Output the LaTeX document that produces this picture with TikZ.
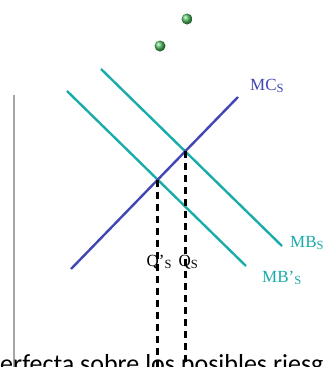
\documentclass[tikz,border=0pt]{standalone}
\usepackage{fontspec}
\setmainfont{Liberation Serif}
\newfontfamily\bodysans{Carlito}
\definecolor{tealc}{RGB}{26,172,170}
\definecolor{bluec}{RGB}{64,70,180}
\definecolor{greyc}{RGB}{165,165,165}
\definecolor{greenc}{RGB}{80,190,95}
\tikzset{
  curve/.style={line width=2.4pt},
  dropline/.style={line width=2.8pt, black, dash pattern=on 7pt off 5pt},
  lbl/.style={inner sep=0pt, anchor=base west, font=\fontsize{17}{17}\selectfont},
  dot/.style={ball color=greenc, draw=none},
}
\newcommand{\subS}{\raisebox{-0.35ex}{\fontsize{12.5}{12.5}\selectfont S}}
\begin{document}
\begin{tikzpicture}[x=1pt,y=-1pt]
\useasboundingbox (0,0) rectangle (324,367);
\clip (0,0) rectangle (324,367);
% end points
\coordinate (mcA) at (71,269);
\coordinate (mcB) at (238,97);
\coordinate (mbA) at (101,69);
\coordinate (mbB) at (282,246);
\coordinate (mbpA) at (67,91);
\coordinate (mbpB) at (246,266);
\coordinate (eq) at (intersection of mcA--mcB and mbA--mbB);
\coordinate (eqp) at (intersection of mcA--mcB and mbpA--mbpB);
% grey axis
\coordinate (axT) at (14,95);
\coordinate (axB) at (14,367);
\draw[greyc, line width=2.6pt] (axT) -- (axB);
% curves
\draw[curve, tealc] (mbpA) -- (mbpB);
\draw[curve, tealc] (mbA) -- (mbB);
\draw[curve, bluec] (mcA) -- (mcB);
% drop lines
\coordinate (eqB) at (eq |- 0,370);
\coordinate (eqpB) at (eqp |- 0,370);
\draw[dropline] (eq) -- (eqB);
\draw[dropline] (eqp) -- (eqpB);
% dots
\shade[dot] (187,19) circle (5.5);
\shade[dot] (160,46) circle (5.5);
% labels
\node[lbl, text=bluec] (mcl) at (250,90) {MC\subS};
\node[lbl, text=tealc] (mbl) at (290,247) {MB\subS};
\node[lbl, text=tealc] (mbpl) at (262,282) {MB’\subS};
\node[lbl] (qpl) at (146.5,266) {Q’\subS};
\node[lbl] (ql) at (178.5,266) {Q\subS};
% bottom text
\node[inner sep=0pt, anchor=base west, font=\bodysans\fontsize{26}{26}\selectfont] (txt) at (-13.6,372) {perfecta sobre los posibles riesgos};
\end{tikzpicture}
\end{document}
